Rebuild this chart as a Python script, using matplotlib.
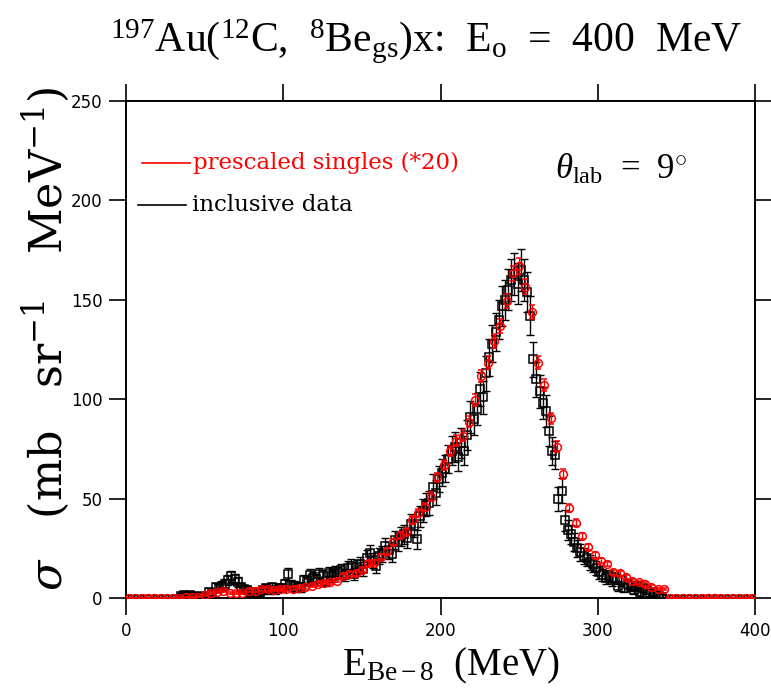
import numpy as np
import matplotlib
matplotlib.use("Agg")
import matplotlib.pyplot as plt
from matplotlib.lines import Line2D

plt.rcParams['mathtext.fontset'] = 'custom'
plt.rcParams['mathtext.rm'] = 'Liberation Serif'
plt.rcParams['mathtext.it'] = 'Liberation Serif:italic'
plt.rcParams['mathtext.bf'] = 'Liberation Serif:bold'

# ---------------- data ----------------
# prescaled singles (*20), 4 MeV bins
red_E = np.arange(2, 400, 4)
red_vals = [0.0, 0.0, 0.0, 0.0, 0.0, 0.0, 0.0, 0.0, 0.2, 0.3,
            0.4, 0.7, 1.5, 2.3, 3.2, 3.5, 2.3, 2.3, 2.3, 3.7,
            3.7, 4.4, 4.4, 4.0, 4.4, 4.4, 4.7, 5.0, 5.4, 6.1,
            7.0, 7.7, 7.9, 8.7, 11.1, 11.9, 12.4, 14.1, 17.4, 17.8,
            20.8, 23.8, 28.3, 31.7, 33.4, 39.2, 42.6, 45.9, 51.0, 60.7,
            67.0, 74.1, 79.1, 81.6, 88.7, 99.6, 111.7, 118.4, 129.4, 137.0,
            149.4, 163.3, 167.0, 156.6, 143.8, 118.4, 107.1, 90.4, 76.1, 62.4,
            45.4, 37.9, 31.2, 25.8, 21.6, 18.8, 17.1, 12.9, 12.4, 10.7,
            8.7, 7.9, 7.0, 5.7, 4.5, 4.5, 0.0, 0.0, 0.0, 0.0,
            0.0, 0.0, 0.0, 0.0, 0.0, 0.0, 0.0, 0.0, 0.0, 0.0]
red_err = [0.0, 0.0, 0.0, 0.0, 0.0, 0.0, 0.0, 0.0, 0.2, 0.2,
           0.2, 0.3, 0.4, 0.5, 0.5, 0.5, 0.5, 0.5, 0.5, 0.6,
           0.6, 0.7, 0.7, 0.6, 0.7, 0.7, 0.7, 0.7, 0.7, 0.8,
           0.8, 0.9, 0.9, 0.9, 1.0, 1.0, 1.1, 1.2, 1.3, 1.3,
           1.4, 1.5, 1.6, 1.7, 1.8, 1.9, 2.0, 2.1, 2.2, 2.4,
           2.5, 2.6, 2.7, 2.8, 2.9, 3.0, 3.2, 3.3, 3.4, 3.5,
           3.7, 3.8, 3.9, 3.8, 3.6, 3.3, 3.2, 2.9, 2.7, 2.4,
           2.1, 1.9, 1.7, 1.6, 1.4, 1.3, 1.2, 1.1, 1.1, 1.0,
           0.9, 0.9, 0.8, 0.7, 0.6, 0.6, 0.0, 0.0, 0.0, 0.0,
           0.0, 0.0, 0.0, 0.0, 0.0, 0.0, 0.0, 0.0, 0.0, 0.0]

# inclusive data, 2 MeV bins
blk_E = np.arange(1, 400, 2)
blk_vals = [0.0, 0.0, 0.0, 0.0, 0.0, 0.0, 0.0, 0.0, 0.0, 0.0,
            0.0, 0.0, 0.0, 0.0, 0.0, 0.0, 0.0,
            1.0, 1.5, 1.0, 1.5, 1.0, 0.5, 0.5, 1.0, 0.0, 3.0,
            2.0, 5.5, 5.0, 6.0, 7.0, 9.0, 11.0, 9.5, 8.0, 5.5,
            4.5, 4.0, 3.0, 2.5, 2.0, 3.0, 4.0, 5.0, 4.0, 5.5,
            4.0, 5.0, 5.0, 7.0, 12.0, 6.5, 6.0, 5.0, 5.5, 9.0,
            8.5, 11.5, 10.0, 9.5, 12.0, 11.0, 8.5, 12.5, 11.0, 13.0,
            12.5, 14.0, 11.5, 15.0, 16.0, 12.0, 15.5, 17.0, 14.5, 20.0,
            22.5, 19.0, 16.0, 21.0, 22.0, 26.0, 24.0, 22.0, 29.0, 28.0,
            31.0, 32.0, 30.0, 37.0, 36.0, 29.5, 41.0, 44.0, 47.0, 48.0,
            56.0, 53.0, 60.0, 63.0, 65.0, 70.0, 74.0, 76.0, 71.0, 78.0,
            74.0, 82.0, 91.0, 90.0, 95.0, 105.0, 101.0, 113.0, 121.0, 128.0,
            134.0, 140.0, 147.0, 150.0, 155.0, 160.0, 163.0, 158.0, 165.0, 160.0,
            154.0, 142.0, 120.0, 110.0, 104.0, 98.0, 94.0, 84.0, 74.0, 72.0,
            50.0, 54.0, 39.0, 34.0, 32.0, 28.0, 25.0, 23.0, 21.0, 20.0,
            18.0, 17.0, 15.0, 13.0, 11.5, 10.0, 11.0, 9.0, 10.0, 6.0,
            9.0, 5.0, 7.0, 6.0, 4.0, 6.0, 3.0, 5.0, 4.0, 2.4,
            3.0, 1.5, 1.0, 0.5,
            0.0, 0.0, 0.0, 0.0, 0.0, 0.0, 0.0, 0.0, 0.0, 0.0,
            0.0, 0.0, 0.0, 0.0, 0.0, 0.0, 0.0, 0.0, 0.0, 0.0,
            0.0, 0.0, 0.0, 0.0, 0.0, 0.0, 0.0, 0.0, 0.0]
blk_err = [1.5, 1.5, 1.5, 1.5, 1.5, 1.5, 1.5, 1.5, 1.5, 1.5,
           1.5, 1.5, 1.5, 1.5, 1.5, 1.5, 1.5,
           1.5, 1.5, 1.5, 1.5, 1.5, 1.5, 1.5, 1.5, 1.5, 1.8,
           1.8, 2.2, 2.2, 2.3, 2.4, 2.6, 2.8, 2.6, 2.5, 2.2,
           2.1, 2.0, 1.9, 1.8, 1.8, 1.9, 2.0, 2.1, 2.0, 2.2,
           2.0, 2.1, 2.1, 2.4, 3.0, 2.4, 2.3, 2.2, 2.3, 2.7,
           2.7, 3.0, 2.9, 2.8, 3.1, 3.0, 2.7, 3.1, 3.0, 3.2,
           3.1, 3.3, 3.0, 3.4, 3.5, 3.1, 3.5, 3.6, 3.4, 3.9,
           4.1, 3.8, 3.5, 4.0, 4.1, 4.4, 4.3, 4.1, 4.6, 4.6,
           4.8, 4.9, 4.8, 5.3, 5.2, 4.7, 5.5, 5.7, 5.9, 6.0,
           6.4, 6.2, 6.6, 6.8, 6.9, 7.1, 7.3, 7.4, 7.2, 7.5,
           7.3, 7.7, 8.1, 8.0, 8.2, 8.6, 8.4, 8.9, 9.2, 9.4,
           9.6, 9.8, 10.0, 10.1, 10.3, 10.4, 10.5, 10.3, 10.6, 10.4,
           10.2, 9.8, 9.0, 8.7, 8.4, 8.2, 8.0, 7.6, 7.2, 7.1,
           6.0, 6.2, 5.3, 5.0, 4.9, 4.6, 4.4, 4.2, 4.0, 3.9,
           3.8, 3.7, 3.5, 3.3, 3.1, 3.0, 3.1, 2.8, 2.9, 2.4,
           2.8, 2.2, 2.5, 2.4, 2.0, 2.4, 1.8, 2.2, 2.0, 1.6,
           1.8, 1.5, 1.5, 1.5,
           1.5, 1.5, 1.5, 1.5, 1.5, 1.5, 1.5, 1.5, 1.5, 1.5,
           1.5, 1.5, 1.5, 1.5, 1.5, 1.5, 1.5, 1.5, 1.5, 1.5,
           1.5, 1.5, 1.5, 1.5, 1.5, 1.5, 1.5, 1.5, 1.5]

x_ticks = [0, 100, 200, 300, 400]
y_ticks = [0, 50, 100, 150, 200, 250]
legend_labels = ['prescaled singles (*20)', 'inclusive data']
legend_colors = ['red', 'black']

# ---------------- figure ----------------
fig = plt.figure(figsize=(7.71, 6.95), dpi=100)
ax = fig.add_axes([126/771, 1 - 598/695, (755-126)/771, (598-101)/695])

blk_vals_a = np.array(blk_vals)
blk_err_a = np.array(blk_err)
blk_E_a = np.array(blk_E)
nz = blk_vals_a > 0

# inclusive data: error bars everywhere, squares where nonzero
ax.errorbar(blk_E_a, blk_vals_a, yerr=blk_err_a, fmt='none', ecolor='black',
            elinewidth=1.0, capsize=3.2, capthick=1.0, zorder=2)
ax.plot(blk_E_a[nz], blk_vals_a[nz], linestyle='none', marker='s', markersize=5.4,
        markerfacecolor='none', markeredgecolor='black', markeredgewidth=1.1, zorder=3)

# prescaled singles
ax.errorbar(red_E, red_vals, yerr=red_err, fmt='o', color='red', markersize=5.6,
            markerfacecolor='none', markeredgecolor='red', markeredgewidth=1.1,
            elinewidth=1.0, capsize=2.5, capthick=1.0, zorder=4)

ax.set_xlim(0, 400)
ax.set_ylim(0, 250)
ax.set_xticks(x_ticks)
ax.set_yticks(y_ticks)
ax.tick_params(direction='out', length=12, width=1.2, top=True, right=True,
               labeltop=False, labelright=False, labelsize=12, pad=5)
for lab in ax.get_xticklabels() + ax.get_yticklabels():
    lab.set_fontfamily('DejaVu Sans')
for s in ax.spines.values():
    s.set_linewidth(1.4)

# legend (drawn by hand in axes coordinates)
leg_rows = [(0.875, 0.0254, 0.1018, 0.1065), (0.791, 0.019, 0.095, 0.105)]
for (yy, x0, x1, xt), lab, col in zip(leg_rows, legend_labels, legend_colors):
    ax.add_line(Line2D([x0, x1], [yy, yy], color=col, lw=1.2, transform=ax.transAxes))
    ax.text(xt, yy, lab, color=col, transform=ax.transAxes, fontsize=16.5,
            family='DejaVu Serif', ha='left', va='center')

ax.text(0.682, 0.861, r'$\theta_{\mathrm{lab}}$  =  9$^{\circ}$', transform=ax.transAxes,
        fontsize=25, ha='left', va='center', family='Liberation Serif')

fig.text(0.553, 0.94, r'$^{197}$Au($^{12}$C,  $^{8}$Be$_{\mathrm{gs}}$)x:  E$_{\mathrm{o}}$  =  400  MeV',
         fontsize=30, ha='center', va='center', family='Liberation Serif')

ax.set_xlabel(r'E$_{\mathrm{Be-8}}$  (MeV)', fontsize=28, family='Liberation Serif')
ax.xaxis.set_label_coords(0.517, -0.097)
ax.set_ylabel(r'$\sigma$   (mb   sr$^{-1}$   MeV$^{-1}$)', fontsize=32,
              family='DejaVu Serif', math_fontfamily='dejavuserif')
ax.yaxis.set_label_coords(-0.088, 0.522)

fig.savefig('out.png', dpi=100)
